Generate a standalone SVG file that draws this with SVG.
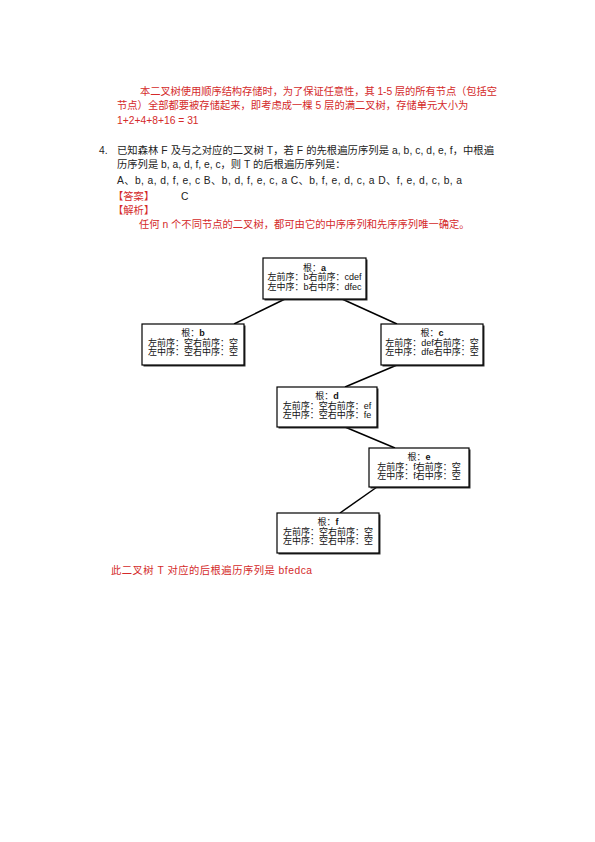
<svg xmlns="http://www.w3.org/2000/svg" width="595" height="842" viewBox="0 0 595 842">
<style>
.t{font-family:"Liberation Sans","Noto Sans CJK SC",sans-serif;font-size:10.3px}
.red{fill:#d42a2a}
.blk{fill:#222}
.n{font-family:"Liberation Sans","Noto Sans CJK SC",sans-serif;font-size:9px;fill:#111;text-anchor:middle}
.box{fill:#fff;stroke:#000;stroke-width:1.2}
.sh{fill:#333}
.edge{stroke:#000;stroke-width:1.5;fill:none}
</style>
<rect width="595" height="842" fill="#fff"/>
<g id="text-top">
<text class="t red" x="140" y="95" textLength="357" lengthAdjust="spacing">本二叉树使用顺序结构存储时，为了保证任意性，其 1-5 层的所有节点（包括空</text>
<text class="t red" x="117" y="109">节点）全部都要被存储起来，即考虑成一棵 5 层的满二叉树，存储单元大小为</text>
<text class="t red" x="117" y="124">1+2+4+8+16 = 31</text>
<text class="t blk" x="99" y="154">4.</text>
<text class="t blk" x="117" y="154" textLength="377" lengthAdjust="spacing">已知森林 F 及与之对应的二叉树 T，若 F 的先根遍历序列是 a, b, c, d, e, f，中根遍</text>
<text class="t blk" x="117" y="168">历序列是 b, a, d, f, e, c，则 T 的后根遍历序列是：</text>
<text class="t blk" x="117" y="184" textLength="345" lengthAdjust="spacing">A、b, a, d, f, e, c B、b, d, f, e, c, a C、b, f, e, d, c, a D、f, e, d, c, b, a</text>
<text class="t red" x="113" y="200">【答案】</text>
<text class="t blk" x="181" y="200">C</text>
<text class="t red" x="113" y="214">【解析】</text>
<text class="t red" x="139" y="228">任何 n 个不同节点的二叉树，都可由它的中序序列和先序序列唯一确定。</text>
</g>
<g id="connectors">
<line class="edge" x1="285" y1="299" x2="234" y2="324"/>
<line class="edge" x1="342" y1="299" x2="397" y2="324"/>
<line class="edge" x1="397" y1="365" x2="345" y2="387"/>
<line class="edge" x1="345" y1="427" x2="395" y2="448"/>
<line class="edge" x1="377" y1="487" x2="340" y2="513"/>
</g>
<g id="node-a">
<rect class="sh" x="264.5" y="259.5" width="103" height="41"/>
<rect class="box" x="263" y="258" width="103" height="41"/>
<text class="n" x="314.5" y="270.5">根：<tspan font-weight="bold">a</tspan></text>
<text class="n" x="314.5" y="280">左前序：b右前序：cdef</text>
<text class="n" x="314.5" y="289.5">左中序：b右中序：dfec</text>
</g>
<g id="node-b">
<rect class="sh" x="143.5" y="325.5" width="102" height="41"/>
<rect class="box" x="142" y="324" width="102" height="41"/>
<text class="n" x="193" y="336">根：<tspan font-weight="bold">b</tspan></text>
<text class="n" x="193" y="345.5">左前序：空右前序：空</text>
<text class="n" x="193" y="355">左中序：空右中序：空</text>
</g>
<g id="node-c">
<rect class="sh" x="382.5" y="325.5" width="102" height="41"/>
<rect class="box" x="381" y="324" width="102" height="41"/>
<text class="n" x="432" y="336">根：<tspan font-weight="bold">c</tspan></text>
<text class="n" x="432" y="345.5">左前序：def右前序：空</text>
<text class="n" x="432" y="355">左中序：dfe右中序：空</text>
</g>
<g id="node-d">
<rect class="sh" x="278.5" y="388.5" width="100" height="40"/>
<rect class="box" x="277" y="387" width="100" height="40"/>
<text class="n" x="327" y="399">根：<tspan font-weight="bold">d</tspan></text>
<text class="n" x="327" y="408.5">左前序：空右前序：ef</text>
<text class="n" x="327" y="418">左中序：空右中序：fe</text>
</g>
<g id="node-e">
<rect class="sh" x="370.5" y="449.5" width="100" height="39"/>
<rect class="box" x="369" y="448" width="100" height="39"/>
<text class="n" x="419" y="460">根：<tspan font-weight="bold">e</tspan></text>
<text class="n" x="419" y="469.5">左前序：f右前序：空</text>
<text class="n" x="419" y="479">左中序：f右中序：空</text>
</g>
<g id="node-f">
<rect class="sh" x="278.5" y="514.5" width="102" height="40"/>
<rect class="box" x="277" y="513" width="102" height="40"/>
<text class="n" x="328" y="525">根：<tspan font-weight="bold">f</tspan></text>
<text class="n" x="328" y="534.5">左前序：空右前序：空</text>
<text class="n" x="328" y="544">左中序：空右中序：空</text>
</g>
<g id="text-bottom">
<text class="t red" x="111" y="574" textLength="201" lengthAdjust="spacing">此二叉树 T 对应的后根遍历序列是 bfedca</text>
</g>
</svg>
